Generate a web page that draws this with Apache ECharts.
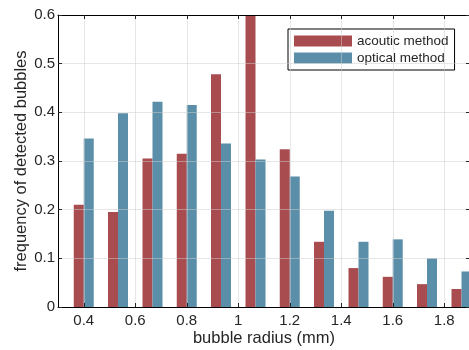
<!DOCTYPE html>
<html>
<head>
<meta charset="utf-8">
<script src="https://cdn.jsdelivr.net/npm/echarts@6/dist/echarts.min.js"></script>
<style>
html,body{margin:0;padding:0;background:#fff;}
#chart{width:469px;height:350px;}
</style>
</head>
<body>
<div id="chart"></div>
<script>
// Data
const radii = [0.4, 0.533, 0.667, 0.8, 0.933, 1.067, 1.2, 1.333, 1.467, 1.6, 1.733, 1.867];
const acoustic = [0.210, 0.195, 0.305, 0.315, 0.478, 0.600, 0.324, 0.134, 0.080, 0.062, 0.047, 0.037];
const optical = [0.346, 0.398, 0.422, 0.415, 0.336, 0.303, 0.268, 0.198, 0.134, 0.139, 0.100, 0.073];
const xTicks = [0.4, 0.6, 0.8, 1.0, 1.2, 1.4, 1.6, 1.8];
const seriesNames = ['acoutic method', 'optical method'];

const font = 'Liberation Sans, Arial, sans-serif';
const txt = '#262626';
const gridCol = 'rgba(205,205,205,0.5)';

const chart = echarts.init(document.getElementById('chart'), null, {renderer: 'canvas'});
chart.setOption({
  animation: false,
  backgroundColor: '#fff',
  textStyle: {fontFamily: font},
  grid: {left: 58, top: 15, right: -1, bottom: 43, containLabel: false, outerBoundsMode: 'none'},
  legend: {
    orient: 'vertical', left: 288, top: 29,
    padding: [5, 6, 5, 6], itemGap: 3,
    itemWidth: 58, itemHeight: 11, icon: 'rect',
    borderColor: '#000', borderWidth: 1, backgroundColor: '#fff',
    textStyle: {fontFamily: font, fontSize: 13.5, color: txt},
    data: seriesNames
  },
  xAxis: [{
    type: 'value', min: 0.3, max: 1.9, position: 'bottom', z: 5,
    name: 'bubble radius (mm)', nameLocation: 'middle', nameGap: 23, nameMoveOverlap: false,
    nameTextStyle: {fontFamily: font, fontSize: 16.5, color: txt},
    axisLine: {show: true, lineStyle: {color: '#000', width: 1}},
    axisTick: {show: true, inside: true, length: 4, customValues: xTicks, lineStyle: {color: txt}},
    axisLabel: {customValues: xTicks, margin: 6, fontFamily: font, fontSize: 15, color: txt},
    splitLine: {show: true, lineStyle: {color: gridCol, width: 1}}
  }, {
    type: 'value', min: 0.3, max: 1.9, position: 'top', z: 5,
    axisLine: {show: true, onZero: false, lineStyle: {color: '#000', width: 1}},
    axisTick: {show: true, inside: true, length: 4, customValues: xTicks, lineStyle: {color: txt}},
    axisLabel: {show: false},
    splitLine: {show: false}
  }],
  yAxis: [{
    type: 'value', min: 0, max: 0.6, interval: 0.1, position: 'left', z: 5,
    name: 'frequency of detected bubbles', nameLocation: 'middle', nameGap: 28, nameMoveOverlap: false,
    nameTextStyle: {fontFamily: font, fontSize: 16.5, color: txt},
    axisLine: {show: true, lineStyle: {color: '#000', width: 1}},
    axisTick: {show: true, inside: true, length: 4, lineStyle: {color: txt}},
    axisLabel: {margin: 3, fontFamily: font, fontSize: 15, color: txt},
    splitLine: {show: true, lineStyle: {color: gridCol, width: 1}}
  }, {
    type: 'value', min: 0, max: 0.6, interval: 0.1, position: 'right', z: 5,
    axisLine: {show: true, onZero: false, lineStyle: {color: '#000', width: 1}},
    axisTick: {show: true, inside: true, length: 4, lineStyle: {color: txt}},
    axisLabel: {show: false},
    splitLine: {show: false}
  }],
  series: [{
    name: seriesNames[0], type: 'bar', xAxisIndex: 0, yAxisIndex: 0,
    barWidth: 10, barGap: '0%',
    itemStyle: {color: '#A84C50'},
    data: radii.map((r, i) => [r, acoustic[i]])
  }, {
    name: seriesNames[1], type: 'bar', xAxisIndex: 0, yAxisIndex: 0,
    barWidth: 10, barGap: '0%',
    itemStyle: {color: '#5B8FA9'},
    data: radii.map((r, i) => [r, optical[i]])
  }]
});
</script>
</body>
</html>
